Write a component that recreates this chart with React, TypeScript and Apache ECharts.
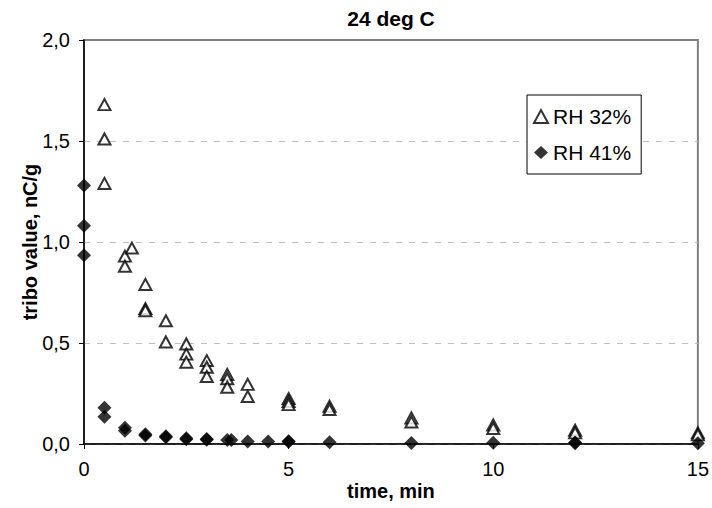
import React, { useEffect, useRef } from "react";
import * as echarts from "echarts";

const seriesNames = ["RH 32%", "RH 41%"];

// RH 32% (open triangles)
const rh32Time = [
  0.5, 0.5, 0.5, 1, 1, 1.17, 1.5, 1.5, 1.5, 2, 2, 2.5, 2.5, 2.5, 3, 3, 3,
  3.5, 3.5, 3.5, 4, 4, 5, 5, 5, 6, 6, 8, 8, 10, 10, 12, 12, 15, 15,
];
const rh32Value = [
  1.68, 1.51, 1.29, 0.93, 0.88, 0.97, 0.79, 0.67, 0.66, 0.61, 0.505, 0.495,
  0.445, 0.405, 0.413, 0.38, 0.334, 0.344, 0.323, 0.281, 0.295, 0.235, 0.225,
  0.21, 0.195, 0.187, 0.171, 0.129, 0.109, 0.094, 0.077, 0.068, 0.055, 0.055,
  0.045,
];

// RH 41% (filled diamonds)
const rh41Time = [
  0, 0, 0, 0.5, 0.5, 1, 1, 1.5, 1.5, 2, 2, 2.5, 2.5, 3, 3, 3.5, 3.6, 4, 4.5,
  5, 5, 6, 8, 10, 12, 12, 15,
];
const rh41Value = [
  1.28, 1.08, 0.935, 0.18, 0.135, 0.08, 0.065, 0.048, 0.042, 0.038, 0.034,
  0.028, 0.024, 0.025, 0.021, 0.02, 0.02, 0.012, 0.012, 0.014, 0.011, 0.009,
  0.005, 0.006, 0.008, 0.004, 0.004,
];

const xMin = 0;
const xMax = 15;
const xStep = 5;
const yMin = 0;
const yMax = 2;
const yStep = 0.5;

const FONT = "'Liberation Sans', Arial, sans-serif";

export default function App() {
  const ref = useRef<HTMLDivElement>(null);

  useEffect(() => {
    const chart = echarts.init(ref.current!, null, { renderer: "svg" });
    chart.setOption({
      animation: false,
      backgroundColor: "#ffffff",
      textStyle: { fontFamily: FONT },
      title: {
        text: "24 deg C",
        left: 386,
        textAlign: "center",
        top: 3,
        textStyle: { fontSize: 21, fontWeight: "bold", color: "#000", fontFamily: FONT },
      },
      grid: {
        left: 84,
        right: 14,
        top: 40,
        bottom: 64,
        show: true,
        borderColor: "#808080",
        borderWidth: 2,
        backgroundColor: "transparent",
      },
      legend: {
        orient: "vertical",
        left: 527,
        top: 95,
        itemWidth: 14,
        itemHeight: 13,
        itemGap: 15,
        padding: [11, 10, 11, 6],
        borderColor: "#000",
        borderWidth: 1,
        backgroundColor: "#fff",
        textStyle: { fontSize: 21, color: "#000", fontFamily: FONT },
        data: [
          { name: seriesNames[0], icon: "triangle" },
          { name: seriesNames[1], icon: "diamond" },
        ],
      },
      xAxis: {
        type: "value",
        min: xMin,
        max: xMax,
        interval: xStep,
        name: "time, min",
        nameLocation: "middle",
        nameGap: 37,
        nameMoveOverlap: false,
        nameTextStyle: { fontSize: 20, fontWeight: "bold", color: "#000", fontFamily: FONT },
        axisLine: { show: true, lineStyle: { color: "#000", width: 1.5 } },
        axisTick: { show: true, inside: false, length: 5, lineStyle: { color: "#000" } },
        axisLabel: { fontSize: 20, color: "#000", margin: 15, fontFamily: FONT },
        splitLine: { show: false },
      },
      yAxis: {
        type: "value",
        min: yMin,
        max: yMax,
        interval: yStep,
        name: "tribo value, nC/g",
        nameLocation: "middle",
        nameRotate: 90,
        nameGap: 44,
        nameMoveOverlap: false,
        nameTextStyle: { fontSize: 20, fontWeight: "bold", color: "#000", fontFamily: FONT },
        axisLine: { show: true, lineStyle: { color: "#000", width: 1.5 } },
        axisTick: { show: true, inside: false, length: 5, lineStyle: { color: "#000" } },
        axisLabel: {
          fontSize: 20,
          color: "#000",
          margin: 14,
          fontFamily: FONT,
          formatter: (v: number) => v.toFixed(1).replace(".", ","),
        },
        splitLine: {
          show: true,
          lineStyle: {
            color: ["#bfbfbf", "#bfbfbf", "#bfbfbf", "#bfbfbf", "#808080"],
            type: [6, 7],
            width: 1,
          },
        },
      },
      series: [
        {
          name: seriesNames[0],
          type: "scatter",
          data: rh32Time.map((t, i) => [t, rh32Value[i]]),
          symbol: "triangle",
          symbolSize: [12, 11],
          itemStyle: { color: "#fff", borderColor: "#000", borderWidth: 2 },
          clip: false,
          z: 3,
        },
        {
          name: seriesNames[1],
          type: "scatter",
          data: rh41Time.map((t, i) => [t, rh41Value[i]]),
          symbol: "diamond",
          symbolSize: 14,
          itemStyle: { color: "#000" },
          clip: false,
          z: 4,
        },
      ],
    });
    return () => chart.dispose();
  }, []);

  return (
    <div
      ref={ref}
      style={{ position: "fixed", left: 0, top: 0, width: 712, height: 508, background: "#fff" }}
    />
  );
}
